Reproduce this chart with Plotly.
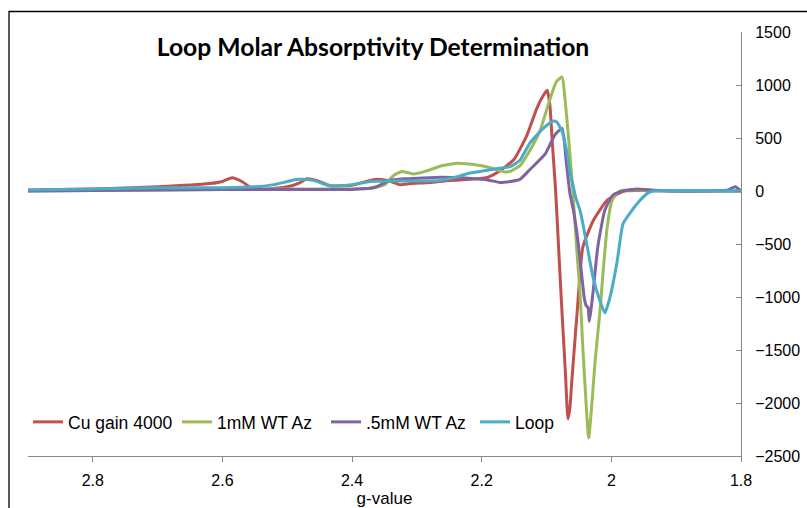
import plotly.graph_objects as go

# ---- data (g-value, signal) ----
cu_g = [2.90, 2.80, 2.70, 2.62, 2.60, 2.585, 2.57, 2.554, 2.53, 2.50, 2.48, 2.47, 2.455, 2.434, 2.40,
        2.372, 2.36, 2.34, 2.326, 2.31, 2.28, 2.25, 2.218, 2.19, 2.172, 2.15, 2.13, 2.115, 2.107,
        2.099, 2.095, 2.091, 2.086, 2.081, 2.076, 2.071, 2.067, 2.064, 2.061, 2.053, 2.044,
        2.028, 2.007, 1.991, 1.98, 1.90, 1.80]
cu_v = [10, 20, 40, 70, 90, 125, 90, 25, 20, 40, 80, 115, 100, 50, 55,
        100, 110, 90, 60, 70, 80, 100, 110, 130, 190, 300, 530, 780, 880,
        950, 820, 450, 0, -580, -1160, -1700, -2150, -2050, -1790, -1160, -530,
        -280, -90, -30, 0, 0, 0]

wt1_g = [2.90, 2.80, 2.70, 2.60, 2.50, 2.40, 2.372, 2.35, 2.335, 2.323, 2.315, 2.306, 2.29, 2.26,
         2.241, 2.22, 2.203, 2.187, 2.172, 2.164, 2.156, 2.141, 2.126, 2.11, 2.095, 2.085, 2.076,
         2.072, 2.066, 2.060, 2.054, 2.048, 2.044, 2.040, 2.035, 2.030, 2.025, 2.018, 2.007, 1.999,
         1.987, 1.90, 1.80]
wt1_v = [0, 5, 10, 15, 20, 20, 25, 60, 150, 185, 175, 160, 180, 240,
         260, 255, 240, 220, 190, 180, 185, 240, 380, 570, 860, 1030, 1075,
         900, 500, 50, -500, -1000, -1480, -1900, -2330, -2000, -1600, -1160, -370, -90,
         0, 0, 0]

wt05_g = [2.90, 2.80, 2.70, 2.60, 2.50, 2.40, 2.372, 2.362, 2.342, 2.32, 2.30, 2.264, 2.23, 2.20,
          2.187, 2.172, 2.156, 2.141, 2.126, 2.102, 2.087, 2.076, 2.070, 2.064, 2.058, 2.052,
          2.046, 2.042, 2.039, 2.036, 2.034, 2.031, 2.028, 2.021, 2.010, 1.998, 1.982, 1.96, 1.94,
          1.90, 1.86, 1.82, 1.809, 1.80]
wt05_v = [0, 5, 10, 15, 15, 15, 25, 40, 100, 115, 120, 130, 125, 110,
          100, 80, 90, 110, 200, 350, 530, 590, 300, -20, -200, -450,
          -780, -1000, -1080, -1100, -1230, -1100, -940, -530, -180, -40, 0, 20, 10,
          0, 0, 10, 40, 0]

loop_g = [2.90, 2.80, 2.70, 2.60, 2.55, 2.52, 2.50, 2.483, 2.46, 2.434, 2.40, 2.372, 2.34, 2.30,
          2.264, 2.241, 2.218, 2.187, 2.172, 2.156, 2.141, 2.126, 2.105, 2.090, 2.084, 2.076,
          2.069, 2.063, 2.059, 2.055, 2.048, 2.038, 2.028, 2.018, 2.010, 2.002, 1.991, 1.982,
          1.968, 1.956, 1.944, 1.935, 1.80]
loop_v = [10, 20, 30, 30, 40, 60, 90, 110, 100, 50, 60, 90, 95, 95,
          100, 130, 170, 200, 215, 230, 290, 450, 590, 660, 650, 560,
          380, 150, 50, -60, -190, -500, -820, -1030, -1150, -1000, -660, -310,
          -180, -90, -20, 0, 0]

series_names = ["Cu gain 4000", "1mM WT Az", ".5mM WT Az", "Loop"]
series_colors = ["#C0504D", "#9BBB59", "#8064A2", "#4BACC6"]
x_ticks = [2.8, 2.6, 2.4, 2.2, 2.0, 1.8]
x_ticktext = ["2.8", "2.6", "2.4", "2.2", "2", "1.8"]
y_ticks = [-2500, -2000, -1500, -1000, -500, 0, 500, 1000, 1500]

fig = go.Figure()
for g, v, name, col in zip([cu_g, wt1_g, wt05_g, loop_g], [cu_v, wt1_v, wt05_v, loop_v],
                           series_names, series_colors):
    fig.add_trace(go.Scatter(x=g, y=v, mode="lines", name=name,
                             line=dict(color=col, width=3, shape="spline", smoothing=0.5)))

W, H = 807, 508
L, R, T, B = 28, 741, 32, 456
fig.update_layout(
    width=W, height=H,
    margin=dict(l=L, r=W - R, t=T, b=H - B, autoexpand=False),
    paper_bgcolor="white", plot_bgcolor="white",
    font=dict(family="Liberation Sans, Arial", size=16, color="#000000"),
    title=dict(text="<b>Loop Molar Absorptivity Determination</b>",
               x=373 / W, xref="container", xanchor="center",
               y=1 - 47 / H, yref="container", yanchor="middle",
               font=dict(family="Lato", size=24.7, color="#000000")),
    showlegend=True,
    legend=dict(orientation="h", x=0, xanchor="left", y=(B - 422) / (B - T), yanchor="middle",
                bgcolor="rgba(0,0,0,0)", font=dict(size=17.5),
                entrywidth=104, entrywidthmode="pixels",
                tracegroupgap=0, traceorder="normal"),
    xaxis=dict(range=[2.9, 1.8], tickvals=x_ticks, ticktext=x_ticktext, automargin=False,
               showline=True, linecolor="#868686", linewidth=1, ticks="outside", ticklen=5,
               tickcolor="#868686", showgrid=False, zeroline=False,
               title=dict(text="g-value", standoff=0, font=dict(size=17)), ticklabelstandoff=5),
    yaxis=dict(range=[-2500, 1500], tickvals=y_ticks, side="right", automargin=False,
               showline=True, linecolor="#868686", linewidth=1, ticks="inside", ticklen=5,
               tickcolor="#868686", showgrid=False, zeroline=False, ticklabelstandoff=10),
)
# chart outer border (top and left edges visible)
fig.add_shape(type="rect", xref="paper", yref="paper",
              x0=(9 - L) / (R - L), x1=1.5, y0=-0.5, y1=(B - 11.5) / (B - T),
              line=dict(color="#000000", width=1.3), layer="above")

fig.write_html("out.html")
